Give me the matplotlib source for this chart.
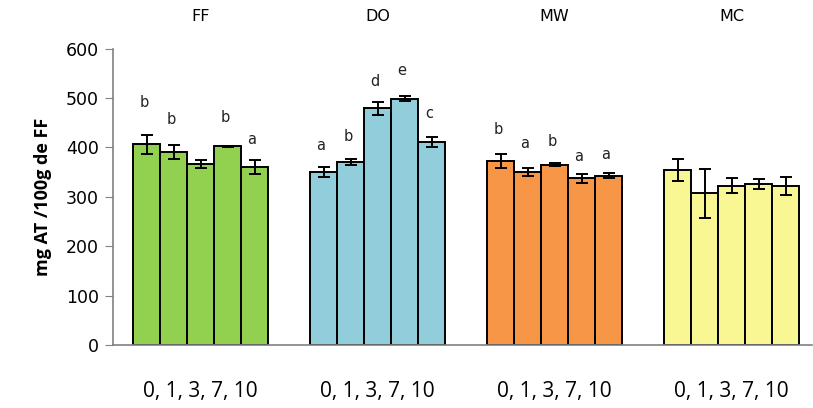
import numpy as np
import matplotlib
matplotlib.use('Agg')
import matplotlib.pyplot as plt

# datos
grupos = ['FF', 'DO', 'MW', 'MC']
dias = '0, 1, 3, 7, 10'
colores = ['#92D050', '#92CDDC', '#F79646', '#F9F794']

valores = [[406, 390, 366, 402, 360],
           [350, 371, 479, 498, 411],
           [372, 350, 365, 337, 343],
           [354, 307, 322, 325, 322]]
errores = [[19, 14, 8, 1, 14],
           [11, 6, 13, 5, 10],
           [14, 8, 3, 10, 6],
           [23, 50, 15, 10, 18]]
letras = [['b', 'b', '', 'b', 'a'],
          ['a', 'b', 'd', 'e', 'c'],
          ['b', 'a', 'b', 'a', 'a'],
          ['', '', '', '', '']]
alt_letras = [[490, 457, 0, 461, 415],
              [403, 421, 534, 555, 469],
              [437, 408, 412, 381, 385],
              [0, 0, 0, 0, 0]]

paso = 6.55
fig = plt.figure(figsize=(8.13, 4.08), dpi=100)
ax = fig.add_axes([0.139, 0.1544, 0.86, 0.7267])

for g in range(4):
    x = g * paso + np.arange(5)
    ax.bar(x, valores[g], width=1.0, color=colores[g], edgecolor='black', linewidth=1.4, zorder=2)
    ax.errorbar(x, valores[g], yerr=errores[g], fmt='none', ecolor='black',
                elinewidth=1.4, capsize=4, capthick=1.4, zorder=3)
    for i in range(5):
        if letras[g][i]:
            ax.text(x[i] - 0.1, alt_letras[g][i], letras[g][i], ha='center', va='center',
                    fontsize=10.5, color='#222222')
    xc = g * paso + 2
    ax.text(xc, 664, grupos[g], ha='center', va='center', fontsize=11.5, clip_on=False)
    ax.text(xc, -95, dias, ha='center', va='center', fontsize=15,
            family='Open Sans', clip_on=False)

ax.set_xlim(-1.24, 3 * paso + 4.98)
ax.set_ylim(0, 600)
ax.set_yticks(range(0, 601, 100))
ax.tick_params(axis='y', labelsize=12.5, length=6, color='#808080', pad=4)
ax.set_xticks([])
for s in ['top', 'right']:
    ax.spines[s].set_visible(False)
for s in ['left', 'bottom']:
    ax.spines[s].set_color('#808080')
    ax.spines[s].set_linewidth(1.2)
ax.set_ylabel('mg AT /100g de FF', fontsize=13, fontweight='bold', family='Open Sans', labelpad=10)

fig.savefig('out.png', dpi=100)
